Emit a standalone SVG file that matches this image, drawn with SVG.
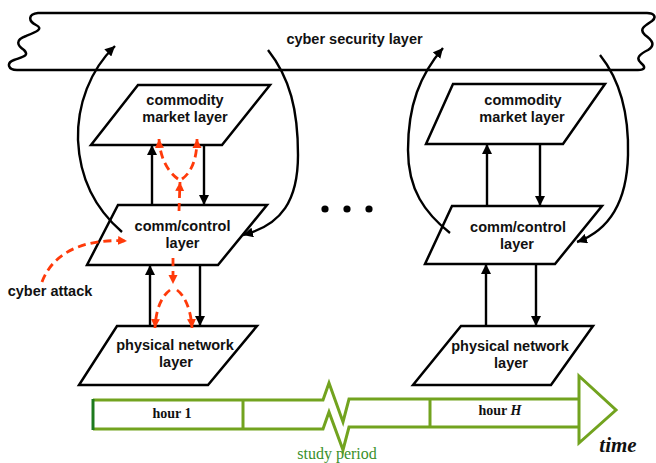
<svg xmlns="http://www.w3.org/2000/svg" width="656" height="463" viewBox="0 0 656 463">
<style>
.band{fill:#fff;stroke:#000;stroke-width:2.5}
.node{fill:#fff;stroke:#000;stroke-width:2.5;stroke-linejoin:miter}
.lbl{font-family:"Liberation Sans",Arial,sans-serif;font-weight:bold;font-size:14.5px;fill:#111;text-anchor:middle}
.blk{fill:none;stroke:#000;stroke-width:2.4}
.red{fill:none;stroke:#ff3a0a;stroke-width:2.8;stroke-dasharray:8 5}
.tl{fill:none;stroke:#72a31f;stroke-width:3;stroke-linejoin:miter}
.ser{font-family:"Liberation Serif","Times New Roman",serif;font-weight:bold;font-size:14px;fill:#111;text-anchor:middle}
</style>
<defs>
<marker id="ab" markerUnits="userSpaceOnUse" markerWidth="11" markerHeight="10" refX="10" refY="5" orient="auto"><path d="M0,0 L10,5 L0,10 z" fill="#000"/></marker>
<marker id="ar" markerUnits="userSpaceOnUse" markerWidth="10" markerHeight="10" refX="9" refY="5" orient="auto"><path d="M0,0.5 L9,5 L0,9.5 z" fill="#ff3a0a"/></marker>
</defs>
<rect width="656" height="463" fill="#fff"/>
<g id="cyber-security-layer">
<path class="band" d="M45,13 L647,13 C654,13 657,17 652,21 C646,25 638,29 645,35 C652,40 656,45 648,50 C640,54 635,58 641,63 C646,67 645,70 638,70 L17,70 C8,70 6,63 14,60 C22,57 30,56 24,50 C17,45 15,40 26,36 C36,32 44,29 36,25 C28,21 28,14 38,13 Z"/>
<text class="lbl" x="354.5" y="44">cyber security layer</text>
</g>
<g id="commodity-1">
<polygon class="node" points="138,85 270,85 222,145 91,145"/>
<text class="lbl" x="185" y="105">commodity</text>
<text class="lbl" x="185" y="121.5">market layer</text>
</g>
<g id="comm-1">
<polygon class="node" points="118,205 267,205 218,265 87,265"/>
<text class="lbl" x="182.5" y="231">comm/control</text>
<text class="lbl" x="182.5" y="247.5">layer</text>
</g>
<g id="physical-1">
<polygon class="node" points="117,326 257,326 208,385 79,385"/>
<text class="lbl" x="175" y="350">physical network</text>
<text class="lbl" x="176" y="367">layer</text>
</g>
<g id="commodity-2">
<polygon class="node" points="453,84 605,84 563,144 426,144"/>
<text class="lbl" x="523" y="105">commodity</text>
<text class="lbl" x="522" y="122">market layer</text>
</g>
<g id="comm-2">
<polygon class="node" points="452,206 602,206 555,264 425,264"/>
<text class="lbl" x="518" y="232">comm/control</text>
<text class="lbl" x="517" y="248.5">layer</text>
</g>
<g id="physical-2">
<polygon class="node" points="461,326 593,326 551,385 413,385"/>
<text class="lbl" x="510" y="351">physical network</text>
<text class="lbl" x="511" y="368">layer</text>
</g>
<g id="cyber-attack">
<text class="lbl" x="50" y="295.5">cyber attack</text>
</g>
<g id="ellipsis">
<circle cx="325" cy="209" r="3.6"/>
<circle cx="347" cy="209" r="3.6"/>
<circle cx="369" cy="209" r="3.6"/>
</g>
<g id="connectors">
<line class="blk" x1="152" y1="205" x2="152" y2="145" marker-end="url(#ab)"/>
<line class="blk" x1="204" y1="145" x2="204" y2="205" marker-end="url(#ab)"/>
<line class="blk" x1="150" y1="326" x2="150" y2="265" marker-end="url(#ab)"/>
<line class="blk" x1="200" y1="265" x2="200" y2="326" marker-end="url(#ab)"/>
<line class="blk" x1="487" y1="206" x2="487" y2="144" marker-end="url(#ab)"/>
<line class="blk" x1="540" y1="144" x2="540" y2="206" marker-end="url(#ab)"/>
<line class="blk" x1="486" y1="326" x2="486" y2="264" marker-end="url(#ab)"/>
<line class="blk" x1="536" y1="264" x2="536" y2="326" marker-end="url(#ab)"/>
<path class="blk" d="M122,232 C100,213 80,185 78,140 C77,105 90,70 115,46" marker-end="url(#ab)"/>
<path class="blk" d="M268,50 C290,78 298,110 298,155 C298,200 282,225 243,235" marker-end="url(#ab)"/>
<path class="blk" d="M450,233 C425,213 408,190 408,150 C408,105 420,75 443,48" marker-end="url(#ab)"/>
<path class="blk" d="M600,55 C620,80 629,115 628,155 C627,200 610,230 577,242" marker-end="url(#ab)"/>
<path class="red" d="M179,211 L180,182" marker-end="url(#ar)"/>
<path class="red" d="M178,179 C168,172 160,158 159,139" marker-end="url(#ar)"/>
<path class="red" d="M182,179 C192,172 197,158 197,139" marker-end="url(#ar)"/>
<path class="red" d="M173,258 L173,284" marker-end="url(#ar)"/>
<path class="red" d="M170,290 C162,296 156,308 155,328" marker-end="url(#ar)"/>
<path class="red" d="M177,290 C185,296 191,310 192,328" marker-end="url(#ar)"/>
<path class="red" d="M42,282 C52,255 80,238 127,241" marker-end="url(#ar)"/>
</g>
<g id="timeline">
<path class="tl" d="M93,400 L323,400 L329,383 L343,422 L349,399 L579,399"/>
<path class="tl" d="M93,429 L323,429 L329,412 L343,450 L349,427 L579,427"/>
<line x1="93" y1="399" x2="93" y2="430" stroke="#1e7a1e" stroke-width="3"/>
<line class="tl" x1="243" y1="400" x2="243" y2="429"/>
<line class="tl" x1="430" y1="399" x2="430" y2="427"/>
<path class="tl" d="M579,376 L616,410 L579,443 Z"/>
<text class="ser" x="172" y="418">hour 1</text>
<text class="ser" x="500" y="415">hour <tspan font-style="italic">H</tspan></text>
<text x="618" y="452" font-family="Liberation Serif,'Times New Roman',serif" font-weight="bold" font-style="italic" font-size="21" text-anchor="middle" fill="#111">time</text>
<text x="337" y="459" font-family="Liberation Serif,'Times New Roman',serif" font-size="16" text-anchor="middle" fill="#3a8f2a">study period</text>
</g>
</svg>
